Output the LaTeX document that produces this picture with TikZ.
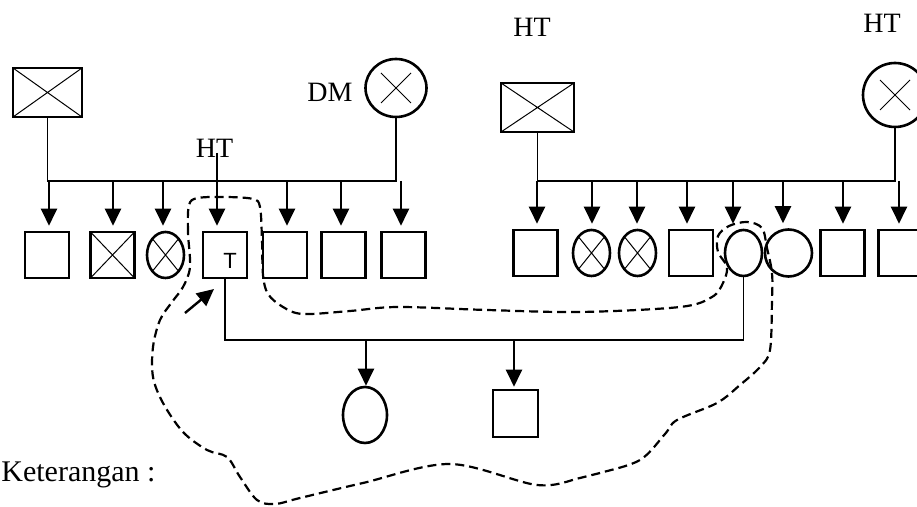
\documentclass[tikz,border=0pt]{standalone}
\usepackage{fontspec}
\setmainfont{Liberation Serif}
\newfontfamily\tagfont{Liberation Sans}
\usepackage{tikz}
\usetikzlibrary{positioning}
\usetikzlibrary{arrows.meta}
\usetikzlibrary{shapes.geometric}
\usetikzlibrary{calc}

\tikzset{
  person/.style={draw, line width=1.3pt, inner sep=0pt},
  msq/.style={person, rectangle, minimum width=22pt, minimum height=23pt},
  fel/.style={person, ellipse, minimum width=18.5pt, minimum height=23pt},
  fcirc/.style={person, ellipse, minimum size=23.5pt},
  crossed/.style={path picture={
      \draw[line width=0.5pt] (path picture bounding box.north west) -- (path picture bounding box.south east)
        (path picture bounding box.south west) -- (path picture bounding box.north east);}},
  smallx/.style={path picture={
      \draw[line width=0.5pt] ($(path picture bounding box.center)+(-7.5pt,-7.5pt)$) -- ($(path picture bounding box.center)+(7.5pt,7.5pt)$)
        ($(path picture bounding box.center)+(-7.5pt,7.5pt)$) -- ($(path picture bounding box.center)+(7.5pt,-7.5pt)$);}},
  msqx/.style={msq, crossed},
  felx/.style={fel, crossed},
  link/.style={line width=0.55pt},
  child/.style={line width=1.2pt, -{Triangle[length=8.5pt,width=8pt]}, shorten >=2.5pt},
  ring/.style={line width=1.1pt, dash pattern=on 4.5pt off 2.5pt},
  txt/.style={font=\fontsize{14}{16}\selectfont, inner sep=0pt}
}

\begin{document}
\begin{tikzpicture}[x=0.5pt, y=-0.5pt]
    \useasboundingbox (0,0) rectangle (917,507);

    % Keluarga kiri
    \node[msq, crossed, minimum width=34.5pt, minimum height=24.5pt] (gfa) at (47.5,92.5) {};
    \node[person, ellipse, smallx, minimum width=30.5pt, minimum height=29pt] (gma) at (396,88) {};
    \node[txt] (dm) at (330,92) {DM};
    \node[txt] (ht1) at (214.5,148) {HT};
    \coordinate (lbar) at (0,181);
    \draw[link] (gfa.south) |- (gma.south |- lbar) -- (gma.south);

    \foreach \n/\x/\s in {a1/47/msq, a2/112.5/msqx, a3/165.5/felx, a4/225/msq,
                          a5/285/msq, a6/343.5/msq, a7/403.5/msq} {
        \node[\s] (\n) at (\x,255) {};
    }
    \foreach \n/\ax in {a1/49, a2/113, a3/163, a5/287, a6/341, a7/401} {
        \coordinate (d\n) at (\ax,181);
        \draw[child] (d\n) -- (d\n |- \n.north);
    }
    \coordinate (da4) at (217,153);
    \draw[child] (da4) -- (da4 |- a4.north);
    \node[font=\tagfont\fontsize{11}{12}\selectfont, inner sep=0pt] (tlabel) at (230,261) {T};

    % Keluarga kanan
    \node[msq, crossed, minimum width=36.5pt, minimum height=24.5pt] (rgfa) at (537.5,107.5) {};
    \node[person, ellipse, smallx, minimum size=32pt] (rgma) at (895,95) {};
    \node[txt] (ht2) at (532,27) {HT};
    \node[txt] (ht3) at (882,23) {HT};
    \draw[link] (rgfa.south) |- (rgma.south |- lbar) -- (rgma.south);

    \foreach \n/\x/\ax/\s in {b1/535.5/537/msq, b2/591.5/592/felx, b3/637.5/637/felx,
                              b4/691/687/msq, b5/743.5/733/fel, b6/788.5/783/fcirc,
                              b7/842.5/843/msq, b8/900.5/899/msq} {
        \node[\s] (\n) at (\x,253) {};
        \coordinate (d\n) at (\ax,181);
        \draw[child] (d\n) -- (d\n |- \n.north);
    }

    % Keluarga inti
    \coordinate (bbar) at (0,340);
    \draw[link] (a4.south) -- (a4.south |- bbar) -- (b5.south |- bbar) -- (b5.south);
    \node[person, ellipse, minimum width=22pt, minimum height=28pt] (gc1) at (365,415) {};
    \node[msq, minimum width=22.5pt, minimum height=23.5pt] (gc2) at (515.5,413.5) {};
    \coordinate (e1) at (366,340);
    \coordinate (e2) at (514,340);
    \draw[child, shorten >=0pt] (e1) -- (e1 |- gc1.north);
    \draw[child, shorten >=1pt] (e2) -- (e2 |- gc2.north);

    % Penanda klien
    \coordinate (pfrom) at (185,313);
    \coordinate (pto) at (214,289);
    \draw[child, shorten >=0pt] (pfrom) -- (pto);

    % Batas rumah tangga
    \draw[ring] plot[smooth cycle, tension=0.55] coordinates {
        (190,267) (188,232) (189,205) (198,198) (226,197) (253,199) (260,207)
        (262,240) (263,275) (268,294) (283,307) (303,314) (350,311) (398,307)
        (487,310) (580,312) (680,307) (712,297) (723,283) (727,267) (718,252)
        (718,236) (729,226) (747,222) (762,228) (767,248) (772,273) (772,300)
        (770,350) (760,367) (740,385) (717,403) (677,420) (665,434) (640,460)
        (600,473) (580,478) (537,485) (450,464) (363,483) (300,498) (275,504)
        (257,500) (240,477) (227,457) (207,450) (183,432) (163,403) (153,377)
        (153,347) (160,320) (172,302) (183,287)
    };

    \node[txt, font=\fontsize{15}{17}\selectfont, anchor=base west] (ket) at (1,482) {Keterangan :};
\end{tikzpicture}
\end{document}
